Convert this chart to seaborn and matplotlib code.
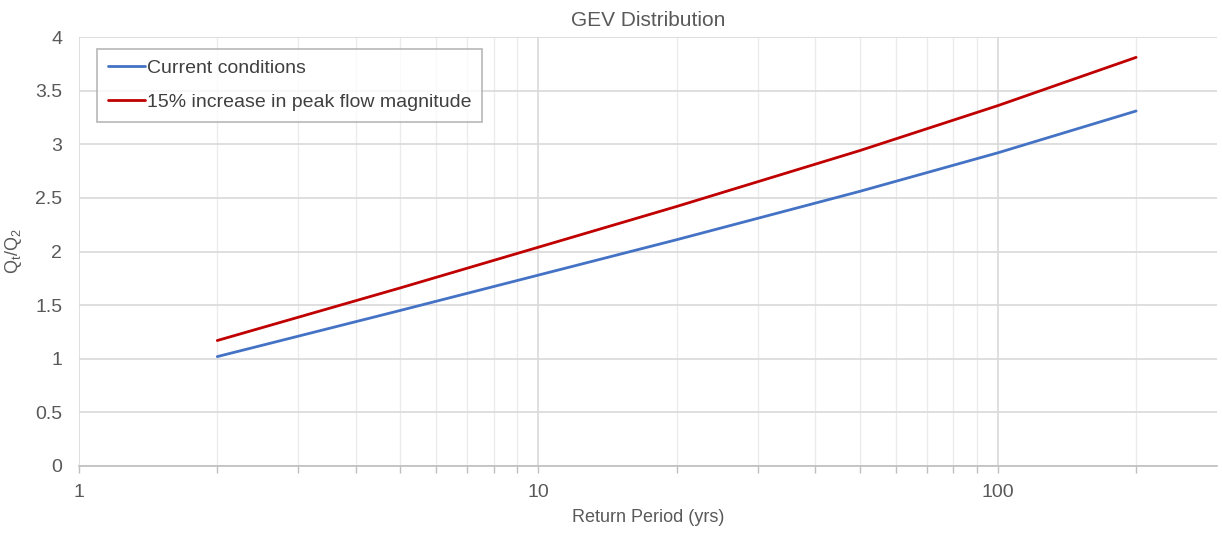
import numpy as np
import pandas as pd
import matplotlib
matplotlib.use("Agg")
import matplotlib.pyplot as plt
import seaborn as sns
from matplotlib.ticker import FixedLocator, NullFormatter

return_period = [2, 5, 10, 20, 50, 100, 200]
current = [1.02, 1.45, 1.78, 2.11, 2.56, 2.92, 3.31]
increased = [1.17, 1.66, 2.04, 2.42, 2.94, 3.36, 3.81]
series_names = ["Current conditions", "15% increase in peak flow magnitude"]
y_ticks = [0, 0.5, 1, 1.5, 2, 2.5, 3, 3.5, 4]
y_tick_labels = ["0", "0.5", "1", "1.5", "2", "2.5", "3", "3.5", "4"]
x_ticks = [1, 10, 100]
x_tick_labels = ["1", "10", "100"]

sns.set_theme(style="white")
plt.rcParams["font.family"] = ["Liberation Sans", "DejaVu Sans"]
plt.rcParams["mathtext.fontset"] = "custom"
plt.rcParams["mathtext.rm"] = "Liberation Sans"
plt.rcParams["mathtext.it"] = "Liberation Sans"

df = pd.DataFrame({
    "T": return_period * 2,
    "Q": current + increased,
    "series": [series_names[0]] * len(current) + [series_names[1]] * len(increased),
})

fig = plt.figure(figsize=(12.22, 5.35), dpi=100)
ax = fig.add_axes([79 / 1222, 1 - 466 / 535, (1217 - 79) / 1222, (466 - 37) / 535])

sns.lineplot(data=df, x="T", y="Q", hue="series",
             palette={series_names[0]: "#4472C4", series_names[1]: "#C00000"},
             linewidth=2, ax=ax, legend=True)

ax.set_xscale("log")
ax.set_xlim(1, 300)
ax.set_ylim(0, 4)

grid_c = "#D9D9D9"
minor = [v * d for d in (1, 10, 100) for v in range(2, 10) if v * d < 300]
ax.xaxis.set_major_locator(FixedLocator(x_ticks))
ax.xaxis.set_minor_locator(FixedLocator(minor))
ax.xaxis.set_minor_formatter(NullFormatter())
ax.set_xticks(x_ticks)
ax.set_xticklabels(x_tick_labels)
ax.set_yticks(y_ticks)
ax.set_yticklabels(y_tick_labels)

ax.grid(True, which="major", axis="both", color=grid_c, linewidth=1.2)
ax.grid(True, which="minor", axis="x", color="#EBEBEB", linewidth=1.0)
ax.set_axisbelow(True)

for s in ["top", "right", "left"]:
    ax.spines[s].set_visible(False)
ax.spines["bottom"].set_color("#BFBFBF")
ax.spines["bottom"].set_linewidth(1.2)

ax.tick_params(axis="x", which="both", direction="out", length=5, color="#BFBFBF",
               width=1, bottom=True, labelsize=14, labelcolor="#595959", pad=8)
ax.tick_params(axis="y", which="both", length=0, labelsize=14, labelcolor="#595959", pad=12)

ax.set_xlabel("Return Period (yrs)", fontsize=13, color="#595959", labelpad=6)
ax.set_ylabel(r"Q$_\mathrm{t}$/Q$_\mathrm{2}$", fontsize=13, color="#595959", labelpad=8)
ax.set_title("GEV Distribution", fontsize=15, color="#595959", pad=8)

leg = ax.legend(title=None, loc="upper left", bbox_to_anchor=(0.016, 0.973),
                fontsize=14, frameon=True, fancybox=False, handlelength=1.9,
                handletextpad=0.1, borderpad=0.55, labelspacing=0.85, borderaxespad=0)
leg.get_frame().set_edgecolor("#A6A6A6")
leg.get_frame().set_linewidth(1.2)
for t in leg.get_texts():
    t.set_color("#404040")

fig.savefig("out.png", dpi=100)
